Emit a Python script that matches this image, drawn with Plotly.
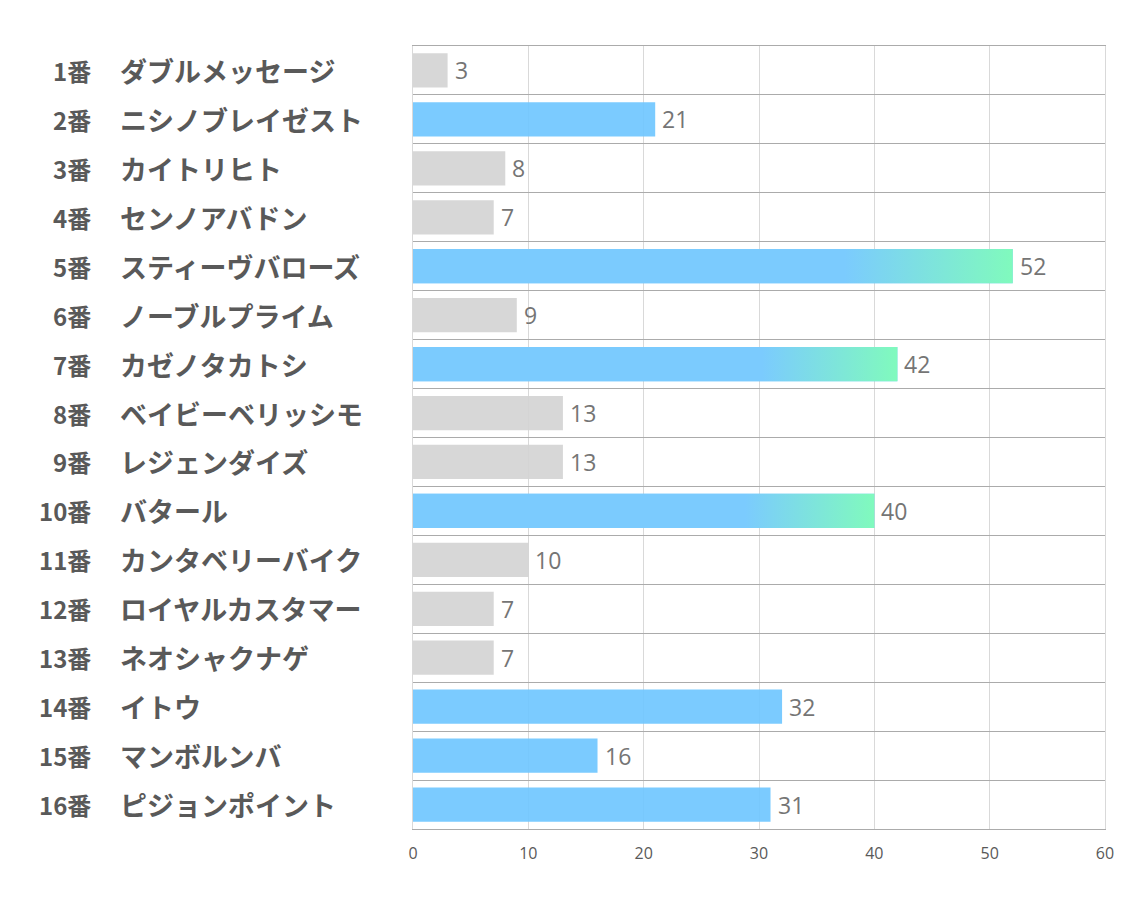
import plotly.graph_objects as go

numbers = ["1番", "2番", "3番", "4番", "5番", "6番", "7番", "8番",
           "9番", "10番", "11番", "12番", "13番", "14番", "15番", "16番"]
names = ["ダブルメッセージ", "ニシノブレイゼスト", "カイトリヒト", "センノアバドン",
         "スティーヴバローズ", "ノーブルプライム", "カゼノタカトシ", "ベイビーベリッシモ",
         "レジェンダイズ", "バタール", "カンタベリーバイク", "ロイヤルカスタマー",
         "ネオシャクナゲ", "イトウ", "マンボルンバ", "ピジョンポイント"]
values = [3, 21, 8, 7, 52, 9, 42, 13, 13, 40, 10, 7, 7, 32, 16, 31]
highlight = [False, True, False, False, True, False, True, False,
             False, True, False, False, False, True, True, True]
gradient = [False, False, False, False, True, False, True, False,
            False, True, False, False, False, False, False, False]
x_ticks = [0, 10, 20, 30, 40, 50, 60]

BLUE = "rgba(112,199,255,0.92)"
BLUE_SOLID = "#7BCBFE"
GREEN_SOLID = "#80FABD"
GRAY = "rgba(212,212,212,0.92)"
LABEL_COLOR = "#595959"
JP_FONT = "Noto Sans CJK JP"

ypos = list(range(len(values)))
bar_width = 0.7

fig = go.Figure()
fig.add_trace(go.Bar(
    x=values, y=ypos, orientation="h", width=bar_width,
    marker=dict(color=[BLUE if h else GRAY for h in highlight], line=dict(width=0)),
    hoverinfo="skip",
))

for i, (v, g) in enumerate(zip(values, gradient)):
    if not g:
        continue
    lo, hi = i - bar_width / 2, i + bar_width / 2
    fig.add_trace(go.Scatter(
        x=[0, v, v, 0, 0], y=[lo, lo, hi, hi, lo],
        mode="lines", line=dict(width=0), fill="toself",
        fillgradient=dict(type="horizontal",
                          colorscale=[[0, BLUE_SOLID], [0.72, BLUE_SOLID], [1, GREEN_SOLID]]),
        hoverinfo="skip", showlegend=False,
    ))

annotations = []
for i, v in enumerate(values):
    annotations.append(dict(
        x=v, y=i, xref="x", yref="y", xanchor="left", yanchor="middle",
        xshift=5, text=str(v), showarrow=False,
        font=dict(family="Open Sans", size=23, color="#757575")))
for i, (num, nm) in enumerate(zip(numbers, names)):
    annotations.append(dict(
        x=-0.4624, y=i, xref="paper", yref="y", xanchor="right", yanchor="middle",
        text=f"<b>{num}</b>", showarrow=False,
        font=dict(family=JP_FONT, size=24, color=LABEL_COLOR)))
    annotations.append(dict(
        x=-0.4263, y=i, xref="paper", yref="y", xanchor="left", yanchor="middle",
        text=f"<b>{nm}</b>", showarrow=False,
        font=dict(family=JP_FONT, size=27, color=LABEL_COLOR)))

fig.update_layout(
    width=1134, height=907,
    margin=dict(l=413, r=29, t=46, b=78),
    paper_bgcolor="white", plot_bgcolor="white",
    showlegend=False,
    annotations=annotations,
    xaxis=dict(range=[0, 60], tickvals=x_ticks, showgrid=True, gridcolor="#D9D9D9",
               gridwidth=1, zeroline=False, showline=True, mirror=True,
               linecolor="#ABABAB", linewidth=1, ticks="",
               tickfont=dict(family="Open Sans", size=16, color=LABEL_COLOR),
               ticklabelstandoff=10),
    yaxis=dict(range=[len(values) - 0.5, -0.5],
               tickvals=[k - 0.5 for k in range(len(values) + 1)],
               showticklabels=False, showgrid=True, gridcolor="#ABABAB",
               gridwidth=1, zeroline=False, showline=True, mirror=True,
               linecolor="#D9D9D9", linewidth=1, ticks=""),
)

fig.write_html("out.html")
